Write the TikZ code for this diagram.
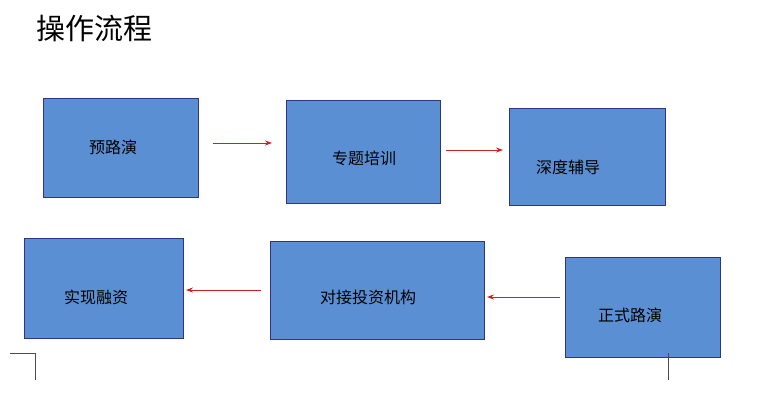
\documentclass[tikz,border=0pt]{standalone}
\usepackage{fontspec}
\setmainfont{Noto Sans CJK SC}
\usetikzlibrary{shapes.misc,arrows.meta}
\begin{document}
\begin{tikzpicture}[x=1pt,y=-1pt,
  oct/.style={chamfered rectangle,chamfered rectangle xsep=24pt,chamfered rectangle ysep=24pt,draw=blue!40!black!80!white,line width=1pt,fill={rgb,255:red,91;green,143;blue,211},inner sep=0pt},
  lab/.style={font=\fontsize{16}{18}\selectfont,inner sep=0pt},
  arr/.style={-{Stealth[length=7pt,width=5pt]},draw={rgb,255:red,210;green,30;blue,30},line width=1pt},
  cornermark/.style={draw=black!70,line width=0.6pt}]
\useasboundingbox (0,0) rectangle (774,405);
\fill[white] (0,0) rectangle (774,405);
\node[anchor=west,inner sep=0pt,font=\fontsize{29}{32}\selectfont] (title) at (36,28) {操作流程};
\node[oct,minimum width=155pt,minimum height=99pt] (o1) at (120.5,147.5) {};
\node[oct,minimum width=154pt,minimum height=103pt] (o2) at (363,151.5) {};
\node[oct,minimum width=156pt,minimum height=97pt] (o3) at (587,156.5) {};
\node[oct,minimum width=159pt,minimum height=100pt] (o4) at (103.5,288) {};
\node[oct,minimum width=214pt,minimum height=98pt] (o5) at (377,290) {};
\node[oct,minimum width=155pt,minimum height=100pt] (o6) at (642.5,307) {};
\node[lab] (t1) at (113,147) {预路演};
\node[lab] (t2) at (364,158) {专题培训};
\node[lab] (t3) at (568,167) {深度辅导};
\node[lab] (t4) at (96,297) {实现融资};
\node[lab] (t5) at (368,297) {对接投资机构};
\node[lab] (t6) at (630,315) {正式路演};
\coordinate (a1s) at (213,143); \coordinate (a1e) at (272,143);
\coordinate (a2s) at (446,150); \coordinate (a2e) at (503,150);
\coordinate (a3s) at (261,290); \coordinate (a3e) at (186,290);
\coordinate (a4s) at (560,297); \coordinate (a4e) at (487,297);
\draw[arr] (a1s) -- (a1e);
\draw[arr] (a2s) -- (a2e);
\draw[arr] (a3s) -- (a3e);
\draw[arr] (a4s) -- (a4e);
\coordinate (m1) at (10,353); \coordinate (m2) at (35,353); \coordinate (m3) at (35,380);
\draw[cornermark] (m1) -- (m2) -- (m3);
\coordinate (m4) at (668,353); \coordinate (m5) at (668,380);
\draw[cornermark] (m4) -- (m5);
\end{tikzpicture}
\end{document}
